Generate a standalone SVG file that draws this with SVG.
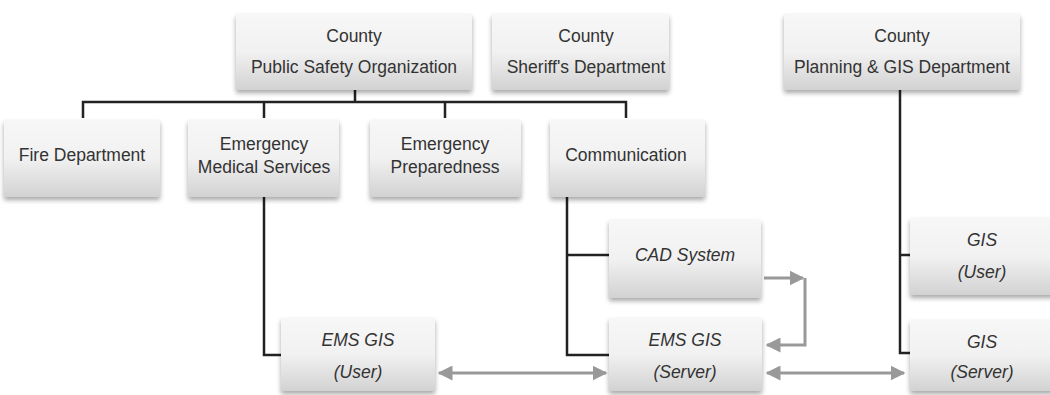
<svg xmlns="http://www.w3.org/2000/svg" width="1050" height="395" viewBox="0 0 1050 395">
<defs>
<linearGradient id="g" x1="0" y1="0" x2="0" y2="1">
<stop offset="0" stop-color="#f7f7f7"/>
<stop offset="0.5" stop-color="#f1f1f1"/>
<stop offset="1" stop-color="#d2d2d2"/>
</linearGradient>
<filter id="sh" x="-10%" y="-10%" width="120%" height="130%">
<feGaussianBlur in="SourceAlpha" stdDeviation="2.5"/>
<feOffset dx="0" dy="3" result="b"/>
<feComponentTransfer><feFuncA type="linear" slope="0.35"/></feComponentTransfer>
<feMerge><feMergeNode/><feMergeNode in="SourceGraphic"/></feMerge>
</filter>
<marker id="ah" viewBox="0 0 10 10" refX="9" refY="5" markerWidth="5" markerHeight="5" orient="auto-start-reverse" markerUnits="strokeWidth">
<path d="M0,0 L10,5 L0,10 z" fill="#999"/>
</marker>
<style>
.box{fill:url(#g);filter:url(#sh);}
.t{font-family:"Liberation Sans",Arial,sans-serif;font-size:17.5px;fill:#333;text-anchor:middle;}
.i{font-style:italic;}
.ln{fill:none;stroke:#222;stroke-width:2.5;}
.ar{fill:none;stroke:#999;stroke-width:3;}
</style>
</defs>
<rect width="1050" height="395" fill="#fff"/>

<g id="connectors">
<path class="ln" d="M355,90 V102 M83,118 V102 H626 V118 M264,102 V118 M445,102 V118"/>
<path class="ln" d="M264,197 V355 H283"/>
<path class="ln" d="M567,197 V355 H610 M567,255 H610"/>
<path class="ln" d="M900,90 V353 H910 M900,255 H910"/>
<path class="ar" d="M764,278 H803" marker-end="url(#ah)"/>
<path class="ar" d="M805,278 V345 H767" marker-end="url(#ah)"/>
<path class="ar" d="M439,373 H606" marker-start="url(#ah)" marker-end="url(#ah)"/>
<path class="ar" d="M767,373 H904" marker-start="url(#ah)" marker-end="url(#ah)"/>
</g>

<g id="n-pso"><rect class="box" x="236" y="14" width="236" height="76"/>
<text class="t" x="354" y="42">County</text><text class="t" x="354" y="73">Public Safety Organization</text></g>
<g id="n-sheriff"><rect class="box" x="492" y="14" width="177" height="76"/>
<text class="t" x="586" y="42">County</text><text class="t" x="586" y="73">Sheriff's Department</text></g>
<g id="n-planning"><rect class="box" x="784" y="14" width="236" height="76"/>
<text class="t" x="902" y="42">County</text><text class="t" x="902" y="73">Planning &amp; GIS Department</text></g>

<g id="n-fire"><rect class="box" x="4" y="120" width="156" height="77"/>
<text class="t" x="82" y="161">Fire Department</text></g>
<g id="n-ems"><rect class="box" x="188" y="120" width="151" height="77"/>
<text class="t" x="264" y="150">Emergency</text><text class="t" x="264" y="173">Medical Services</text></g>
<g id="n-ep"><rect class="box" x="370" y="120" width="151" height="77"/>
<text class="t" x="445" y="150">Emergency</text><text class="t" x="445" y="173">Preparedness</text></g>
<g id="n-comm"><rect class="box" x="550" y="120" width="155" height="77"/>
<text class="t" x="626" y="161">Communication</text></g>

<g id="n-cad"><rect class="box" x="609" y="220" width="152" height="78"/>
<text class="t i" x="685" y="261">CAD System</text></g>
<g id="n-emsuser"><rect class="box" x="281" y="318" width="154" height="73"/>
<text class="t i" x="358" y="346">EMS GIS</text><text class="t i" x="358" y="378">(User)</text></g>
<g id="n-emsserver"><rect class="box" x="609" y="318" width="153" height="73"/>
<text class="t i" x="685" y="346">EMS GIS</text><text class="t i" x="685" y="378">(Server)</text></g>
<g id="n-gisuser"><rect class="box" x="910" y="218" width="145" height="77"/>
<text class="t i" x="982" y="246">GIS</text><text class="t i" x="982" y="278">(User)</text></g>
<g id="n-gisserver"><rect class="box" x="910" y="320" width="145" height="71"/>
<text class="t i" x="982" y="348">GIS</text><text class="t i" x="982" y="378">(Server)</text></g>
</svg>
